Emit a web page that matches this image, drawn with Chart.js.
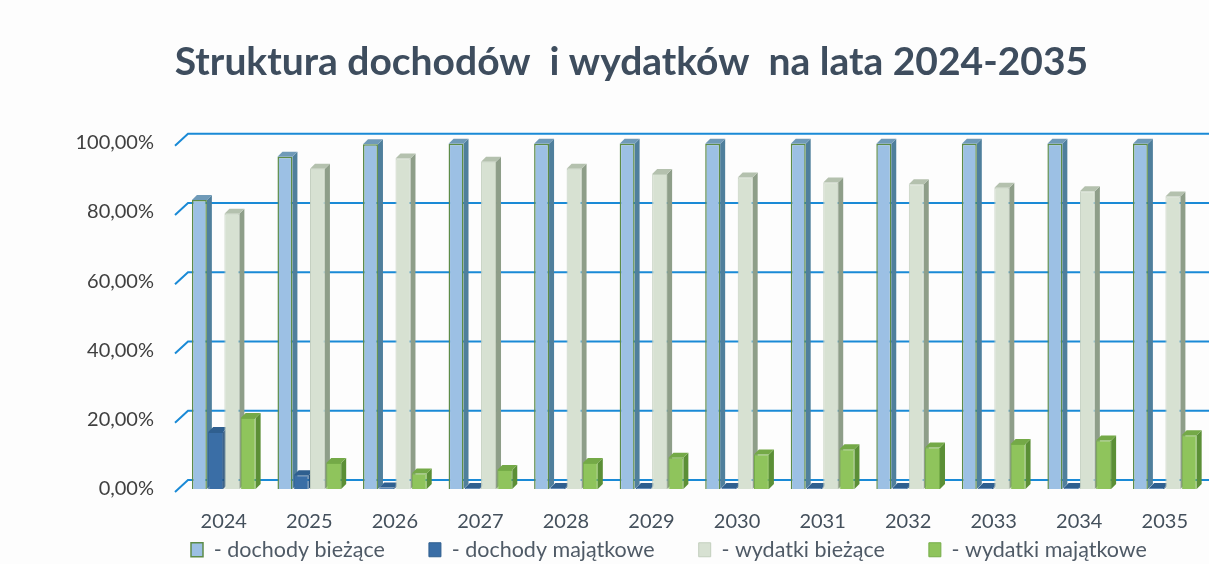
<!DOCTYPE html>
<html>
<head>
<meta charset="utf-8">
<script src="https://cdn.jsdelivr.net/npm/chart.js@4/dist/chart.umd.min.js"></script>
<style>
  html, body { margin: 0; padding: 0; background: #fdfdfd; }
  #wrap { width: 1209px; height: 564px; }
</style>
</head>
<body>
<div id="wrap"><canvas id="chart"></canvas></div>
<script>
// lata i udziały w procentach
const years = ['2024', '2025', '2026', '2027', '2028', '2029', '2030', '2031', '2032', '2033', '2034', '2035'];
const dochodyBiezace = [83.5, 96, 99.6, 99.7, 99.7, 99.7, 99.7, 99.7, 99.7, 99.7, 99.7, 99.7];
const dochodyMajatkowe = [16.5, 4, 0.4, 0.3, 0.3, 0.3, 0.3, 0.3, 0.3, 0.3, 0.3, 0.3];
const wydatkiBiezace = [79.5, 92.5, 95.5, 94.5, 92.5, 91, 90, 88.5, 88, 87, 86, 84.5];
const wydatkiMajatkowe = [20.5, 7.5, 4.5, 5.5, 7.5, 9, 10, 11.5, 12, 13, 14, 15.5];
const yTicks = [0, 20, 40, 60, 80, 100];

const FONT = 'Lato, "Open Sans", sans-serif';
const DEPTH = 5;

// kolory: przód, bok, góra
const shades = [
    { front: '#9cc0e4', side: '#4f7f9c', top: '#6f9ab8', border: '#5d8c48' },
    { front: '#3a6ea6', side: '#244f7c', top: '#2f5f8f', border: '#2f5f8f' },
    { front: '#d7e1d2', side: '#8e9e89', top: '#b4c1ae', border: '#c3cfbe' },
    { front: '#8fc45c', side: '#5b8f36', top: '#74a947', border: '#76ad48' }
];

// linie siatki z "tylnej ściany" i efekt 3D słupków
const depthPlugin = {
    id: 'depth3d',
    beforeDatasetsDraw(chart) {
        const ctx = chart.ctx;
        const y = chart.scales.y;
        const area = chart.chartArea;
        ctx.save();
        ctx.strokeStyle = '#1a8ad6';
        ctx.lineWidth = 2;
        yTicks.forEach(v => {
            const yF = y.getPixelForValue(v);
            ctx.beginPath();
            ctx.moveTo(area.left - 6, yF + 3);
            ctx.lineTo(area.left + 7, yF - 9);
            ctx.lineTo(chart.width, yF - 9);
            ctx.stroke();
        });
        // boki i wierzchy słupków
        chart.data.datasets.forEach((ds, i) => {
            const meta = chart.getDatasetMeta(i);
            const c = shades[i];
            meta.data.forEach(bar => {
                const l = bar.x - bar.width / 2;
                const r = bar.x + bar.width / 2;
                const t = bar.y;
                const b = bar.base;
                ctx.fillStyle = c.side;
                ctx.beginPath();
                ctx.moveTo(r, t);
                ctx.lineTo(r + DEPTH, t - DEPTH);
                ctx.lineTo(r + DEPTH, b - DEPTH);
                ctx.lineTo(r, b);
                ctx.closePath();
                ctx.fill();
                ctx.fillStyle = c.top;
                ctx.beginPath();
                ctx.moveTo(l, t);
                ctx.lineTo(l + DEPTH, t - DEPTH);
                ctx.lineTo(r + DEPTH, t - DEPTH);
                ctx.lineTo(r, t);
                ctx.closePath();
                ctx.fill();
            });
        });
        ctx.restore();
    }
};

// legenda i tytuł: przesunięcie jak na oryginale
const boxShift = {
    id: 'boxShift',
    afterLayout(chart) {
        const lg = chart.legend;
        const dx = 147 - lg.left;
        lg.left += dx;
        lg.right += dx;
        lg.top = 495;
        lg.bottom = 564;
        const tb = chart.titleBlock;
        tb.left += 27;
        tb.right += 27;
    }
};

function makeSet(label, data, i, bw) {
    return {
        label: label,
        data: data,
        backgroundColor: shades[i].front,
        borderColor: shades[i].border,
        borderWidth: bw,
        categoryPercentage: 0.76,
        barPercentage: 0.92
    };
}

new Chart(document.getElementById('chart').getContext('2d'), {
    type: 'bar',
    data: {
        labels: years,
        datasets: [
            makeSet('- dochody bieżące', dochodyBiezace, 0, 1.5),
            makeSet('- dochody majątkowe', dochodyMajatkowe, 1, 1),
            makeSet('- wydatki bieżące', wydatkiBiezace, 2, 1),
            makeSet('- wydatki majątkowe', wydatkiMajatkowe, 3, 1)
        ]
    },
    options: {
        responsive: true,
        maintainAspectRatio: false,
        animation: false,
        layout: { padding: 0 },
        scales: {
            x: {
                grid: { display: false, drawTicks: false },
                border: { display: false },
                ticks: {
                    padding: 21,
                    color: '#44505c',
                    font: { family: FONT, size: 20 }
                },
                afterFit(scale) { scale.height = 45; }
            },
            y: {
                min: 0,
                max: 100,
                grid: { display: false, drawTicks: false },
                border: { display: false },
                ticks: {
                    stepSize: 20,
                    padding: 27,
                    color: '#404040',
                    font: { family: FONT, size: 20 },
                    callback: v => v.toFixed(2).replace('.', ',') + '%'
                },
                afterFit(scale) { scale.width = 181; }
            }
        },
        plugins: {
            title: {
                display: true,
                text: 'Struktura dochodów  i wydatków  na lata 2024-2035',
                color: '#3e4d5e',
                font: { family: FONT, size: 39, weight: 'bold' },
                padding: { top: 39, bottom: 57 }
            },
            legend: {
                position: 'bottom',
                align: 'start',
                maxHeight: 30,
                labels: {
                    boxWidth: 12,
                    boxHeight: 14,
                    padding: 44,
                    color: '#4f5a66',
                    font: { family: FONT, size: 21.5 }
                }
            },
            tooltip: { enabled: false }
        }
    },
    plugins: [depthPlugin, boxShift]
});
</script>
</body>
</html>
